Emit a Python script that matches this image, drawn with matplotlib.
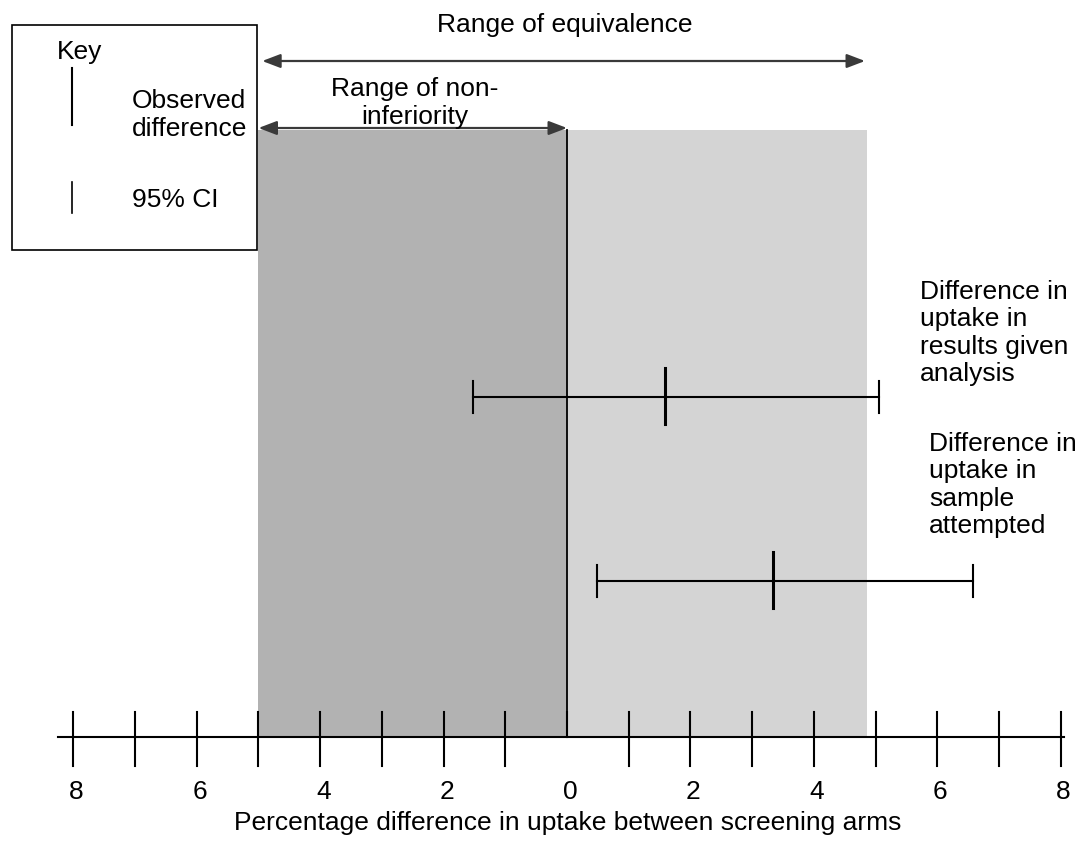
import matplotlib
matplotlib.use("Agg")
import matplotlib.pyplot as plt
import matplotlib.patches as patches

plt.rcParams['font.family'] = ['Liberation Sans', 'DejaVu Sans']

# --- data -------------------------------------------------------------
axis_ticks = list(range(-8, 9))
label_ticks = [-8, -6, -4, -2, 0, 2, 4, 6, 8]
label_text = [str(abs(v)) for v in label_ticks]

noninf_margin = -5.0          # lower limit of non-inferiority / equivalence
equiv_upper = 4.87            # upper limit of equivalence (shaded)
equiv_arrow = (-4.94, 4.83)   # arrow "Range of equivalence"

row_names = ["Difference in\nuptake in\nresults given\nanalysis",
             "Difference in\nuptake in\nsample\nattempted"]
estimates = [1.59, 3.34]
ci_low = [-1.53, 0.49]
ci_high = [5.05, 6.58]

x_title = "Percentage difference in uptake between screening arms"

# --- layout (pixels of the 1079x841 image) -----------------------------
W, H = 1079, 841
X0, U = 567.0, 61.7           # pixel of 0 and pixels per unit


def px(x):
    """pixel column -> data x"""
    return (x - X0) / U


AXIS_Y = 737
SHADE_TOP = 130
ROW_Y = [397, 581]
FS = 19
LS = 1.18

fig = plt.figure(figsize=(W / 100, H / 100), dpi=100)
ax = fig.add_axes([0, 0, 1, 1])
ax.set_xlim(px(0), px(W))
ax.set_ylim(H, 0)
ax.axis("off")

# shaded regions
ax.add_patch(patches.Rectangle((noninf_margin, SHADE_TOP), 0 - noninf_margin,
                               AXIS_Y - SHADE_TOP, facecolor="#b2b2b2",
                               edgecolor="none", zorder=0))
ax.add_patch(patches.Rectangle((0, SHADE_TOP), equiv_upper, AXIS_Y - SHADE_TOP,
                               facecolor="#d4d4d4", edgecolor="none", zorder=0))
ax.plot([0, 0], [SHADE_TOP, AXIS_Y], color="black", lw=1.3, zorder=2)

# axis line with ticks
ax.plot([px(58), px(1064)], [AXIS_Y, AXIS_Y], color="black", lw=1.5, zorder=3)
for t in axis_ticks:
    bottom = AXIS_Y if t == 0 else 766
    ax.plot([t, t], [712, bottom], color="black", lw=1.5, zorder=3)
for t, lab in zip(label_ticks, label_text):
    ax.text(t + 0.05, 792, lab, ha="center", va="center", fontsize=FS)
ax.text(px(568), 823, x_title, ha="center", va="center", fontsize=FS)

# range arrows
arrow_kw = dict(arrowstyle="<|-|>,head_length=1.1,head_width=0.42",
                color="#3a3a3a", lw=1.6, shrinkA=0, shrinkB=0)
ax.annotate("", xy=(equiv_arrow[0], 61), xytext=(equiv_arrow[1], 61),
            arrowprops=arrow_kw)
ax.annotate("", xy=(noninf_margin, 128), xytext=(0, 128), arrowprops=arrow_kw)
ax.text(px(565), 25, "Range of equivalence", ha="center", va="center", fontsize=FS)
ax.text(px(415), 103, "Range of non-\ninferiority", ha="center", va="center",
        fontsize=FS, linespacing=LS)

# estimates with 95% CI
for y, est, lo, hi in zip(ROW_Y, estimates, ci_low, ci_high):
    ax.plot([lo, hi], [y, y], color="black", lw=1.5, zorder=4)
    for end in (lo, hi):
        ax.plot([end, end], [y - 16, y + 16], color="black", lw=1.5, zorder=4)
    ax.plot([est, est], [y - 29, y + 27], color="black", lw=2.2, zorder=4)

ax.text(px(920), 333, row_names[0], ha="left", va="center", fontsize=FS,
        linespacing=LS)
ax.text(px(929), 485, row_names[1], ha="left", va="center", fontsize=FS,
        linespacing=LS)

# key
ax.add_patch(patches.Rectangle((px(12), 25), (257 - 12) / U, 225,
                               facecolor="white", edgecolor="black", lw=1.2,
                               zorder=5))
ax.text(px(57), 52, "Key", ha="left", va="center", fontsize=FS, zorder=6)
ax.plot([px(72), px(72)], [68, 125], color="black", lw=1.5, zorder=6)
ax.text(px(132), 115, "Observed\ndifference", ha="left", va="center",
        fontsize=FS, linespacing=LS, zorder=6)
ax.plot([px(72), px(72)], [182, 213], color="black", lw=1.2, zorder=6)
ax.text(px(132), 200, "95% CI", ha="left", va="center", fontsize=FS, zorder=6)

fig.savefig("out.png", dpi=100)
